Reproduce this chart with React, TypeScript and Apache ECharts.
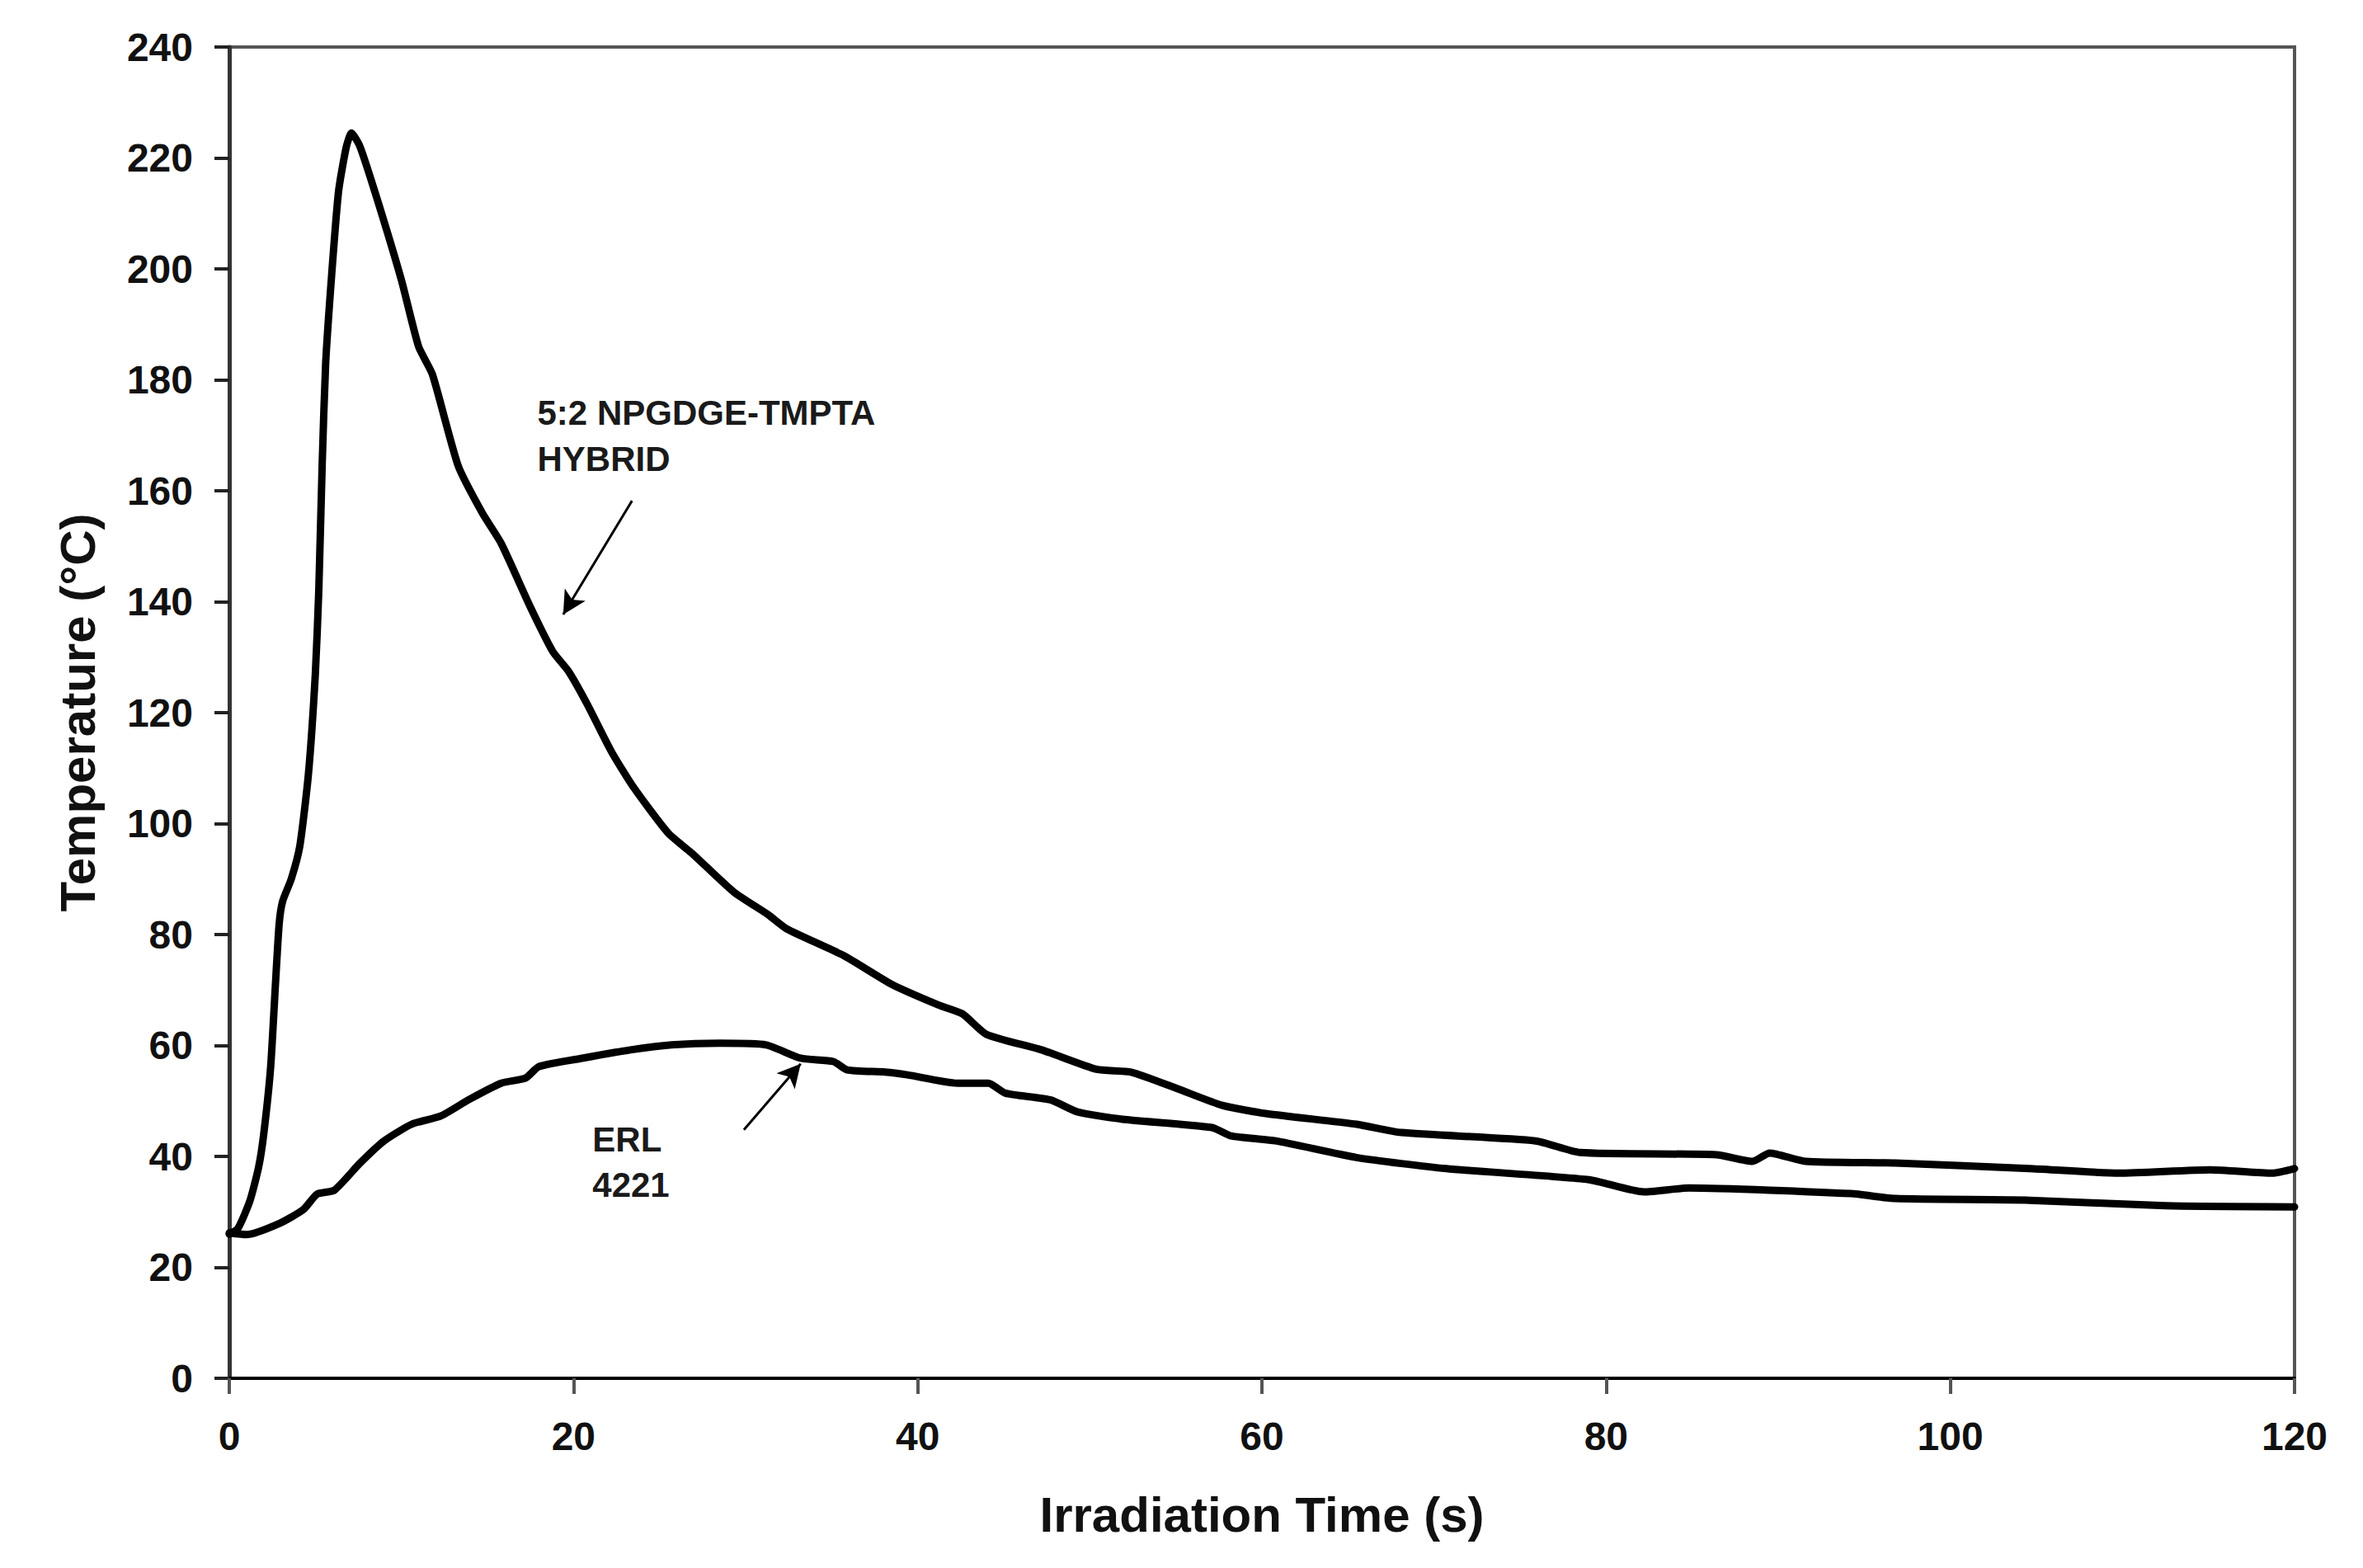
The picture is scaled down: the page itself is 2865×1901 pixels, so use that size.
import React, { useEffect, useRef } from "react";
import * as echarts from "echarts";

const hybridTime = [0, 0.5, 1.2, 1.7, 2.0, 2.4, 2.7, 2.9, 3.1, 3.6, 4.1, 4.6, 5.0, 5.2, 5.4, 5.6, 5.95, 6.35, 6.8, 7.1, 7.6, 8.6, 10.0, 11.0, 11.8, 13.3, 14.7, 15.8, 17.5, 18.8, 19.7, 20.8, 22.2, 23.5, 25.5, 26.9, 29.3, 31.3, 32.4, 35.7, 38.5, 41.2, 42.6, 44.0, 47.2, 50.4, 52.4, 55.1, 57.7, 60.3, 65.5, 68.1, 75.9, 78.5, 86.4, 88.5, 89.5, 91.6, 96.8, 104.6, 109.8, 115.1, 118.7, 120];
const hybridTemp = [26, 27, 32, 38, 44, 56, 72, 82, 86, 90, 96, 109, 127, 142, 165, 183, 199, 214, 222, 224.5, 222, 212.5, 198, 186, 181, 164.5, 156, 150.5, 139, 131, 127.5, 121.5, 113, 106.5, 98.3, 94.6, 87.7, 83.6, 81, 76.2, 71, 67.3, 65.7, 62, 59.2, 55.7, 55.2, 52.2, 49.2, 47.7, 45.8, 44.3, 42.8, 40.7, 40.3, 39.1, 40.6, 39.1, 38.8, 37.8, 37, 37.6, 37, 37.8];

const erlTime = [0, 1.0, 2.9, 4.3, 5.1, 6.1, 7.6, 9.0, 10.6, 12.3, 13.9, 15.8, 17.2, 18.0, 20.5, 23.3, 25.7, 28.5, 31.2, 33.2, 35.1, 35.9, 38.1, 39.4, 42.3, 44.1, 45.1, 47.7, 49.3, 51.9, 57.1, 58.2, 60.8, 65.5, 70.7, 79, 82.2, 84.8, 94.2, 96.8, 104.6, 112.5, 120];
const erlTemp = [26.2, 25.9, 27.9, 30.4, 33.2, 33.9, 38.8, 42.8, 45.8, 47.3, 50.2, 53.2, 54.1, 56.2, 57.7, 59.2, 60.1, 60.4, 60.1, 57.7, 57.1, 55.6, 55.2, 54.7, 53.2, 53.2, 51.4, 50.2, 48, 46.7, 45.2, 43.7, 42.8, 39.8, 37.8, 35.8, 33.6, 34.3, 33.3, 32.4, 32.1, 31.1, 30.9];

const hybridLabel = ["5:2 NPGDGE-TMPTA", "HYBRID"];
const erlLabel = ["ERL", "4221"];

const FONT = '"Liberation Sans", Arial, Helvetica, sans-serif';

export default function App() {
  const ref = useRef<HTMLDivElement>(null);

  useEffect(() => {
    if (!ref.current) return;
    const chart = echarts.init(ref.current, null, { renderer: "svg" });

    const zip = (xs: number[], ys: number[]) => xs.map((x, i) => [x, ys[i]]);

    const arrowStyle = { color: "#000", width: 3, type: "solid" };

    const option: any = {
      animation: false,
      backgroundColor: "#fff",
      grid: {
        left: 278,
        right: 83,
        top: 57,
        bottom: 230,
        show: true,
        borderColor: "#555",
        borderWidth: 4,
        backgroundColor: "transparent",
      },
      xAxis: {
        type: "value",
        min: 0,
        max: 120,
        interval: 20,
        name: "Irradiation Time (s)",
        nameLocation: "middle",
        nameGap: 135,
        nameTextStyle: { fontFamily: FONT, fontWeight: "bold", fontSize: 60, color: "#111" },
        axisLine: { show: true, onZero: false, lineStyle: { color: "#000", width: 4 } },
        axisTick: { show: true, inside: false, length: 19, lineStyle: { color: "#555", width: 4 } },
        axisLabel: { margin: 46, fontFamily: FONT, fontWeight: "bold", fontSize: 48, color: "#111" },
        splitLine: { show: false },
      },
      yAxis: {
        type: "value",
        min: 0,
        max: 240,
        interval: 20,
        name: "Temperature (°C)",
        nameLocation: "middle",
        nameGap: 154,
        nameTextStyle: { fontFamily: FONT, fontWeight: "bold", fontSize: 60, color: "#111" },
        axisLine: { show: true, onZero: false, lineStyle: { color: "#333", width: 5 } },
        axisTick: { show: true, inside: false, length: 18, lineStyle: { color: "#222", width: 4 } },
        axisLabel: { margin: 44, fontFamily: FONT, fontWeight: "bold", fontSize: 48, color: "#111" },
        splitLine: { show: false },
      },
      series: [
        {
          name: "Hybrid",
          type: "line",
          data: zip(hybridTime, hybridTemp),
          showSymbol: false,
          symbol: "none",
          smooth: 0.2,
          lineStyle: { color: "#000", width: 9, join: "round", cap: "round" },
          z: 3,
          markLine: {
            silent: true,
            animation: false,
            label: { show: false },
            lineStyle: arrowStyle,
            symbolSize: [22, 28],
            emphasis: { disabled: true },
            data: [
              [
                { coord: [23.4, 158.2], symbol: "none" },
                { coord: [19.4, 137.7], symbol: "arrow" },
              ],
              [
                { coord: [29.9, 44.8], symbol: "none" },
                { coord: [33.2, 56.7], symbol: "arrow" },
              ],
            ],
          },
        },
        {
          name: "ERL 4221",
          type: "line",
          data: zip(erlTime, erlTemp),
          showSymbol: false,
          symbol: "none",
          smooth: 0.2,
          lineStyle: { color: "#000", width: 9, join: "round", cap: "round" },
          z: 3,
        },
      ],
    };

    chart.setOption(option);

    const px = (x: number, y: number) => chart.convertToPixel({ gridIndex: 0 }, [x, y]) as number[];
    const textEl = (x: number, y: number, text: string) => {
      const p = px(x, y);
      return {
        type: "text",
        x: p[0],
        y: p[1],
        silent: true,
        style: {
          text,
          fill: "#1a1a1a",
          fontFamily: FONT,
          fontWeight: "bold",
          fontSize: 42,
          align: "left",
          verticalAlign: "middle",
        },
      };
    };

    chart.setOption({
      graphic: [
        textEl(17.9, 174.1, hybridLabel[0]),
        textEl(17.9, 165.7, hybridLabel[1]),
        textEl(21.1, 43.0, erlLabel[0]),
        textEl(21.1, 34.9, erlLabel[1]),
      ],
    });

    return () => chart.dispose();
  }, []);

  return (
    <div
      ref={ref}
      style={{ position: "absolute", left: 0, top: 0, width: 2865, height: 1901, background: "#fff" }}
    />
  );
}
